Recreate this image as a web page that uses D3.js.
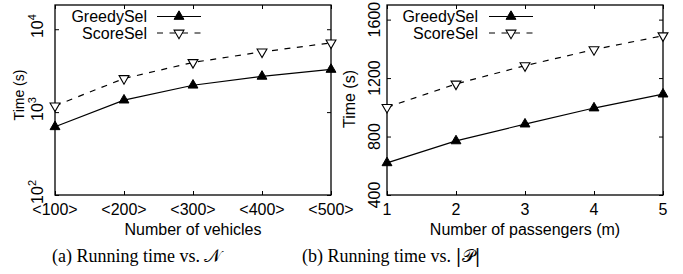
<!DOCTYPE html>
<html><head><meta charset="utf-8">
<script src="https://cdn.jsdelivr.net/npm/d3@7"></script>
<style>body{margin:0;background:#fff} svg{display:block}</style>
</head><body><svg id="c" width="683" height="274"></svg>
<script>
// ---- data ----
const vehicleCats = ["<100>", "<200>", "<300>", "<400>", "<500>"];
const greedyVeh = [665, 1395, 2110, 2700, 3270];
const scoreVeh = [1190, 2545, 3975, 5330, 6840];
const passengerCounts = [1, 2, 3, 4, 5];
const greedyPass = [620, 770, 885, 995, 1090];
const scorePass = [1000, 1160, 1285, 1395, 1490];
const vehYTicks = [100, 1000, 10000];
const passYTicks = [400, 800, 1200, 1600];
const seriesNames = ["GreedySel", "ScoreSel"];
const captions = ["(a) Running time vs. ", "(b) Running time vs. "];
const captionSymbols = ["\u{1D4A9}", "|\u{1D4AB}|"];

const svg = d3.select("#c");
const FONT = "'Liberation Sans', Arial, Helvetica, sans-serif";
const plotTop = 5, plotBottom = 195, TL = 4;

function triUp(g, x, y) {
  g.append("path").attr("d", d3.symbol(d3.symbolTriangle, 42)())
    .attr("transform", `translate(${x},${y})`).attr("fill", "#000").attr("stroke", "#000").attr("stroke-width", 1);
}
function triDown(g, x, y) {
  g.append("path").attr("d", d3.symbol(d3.symbolTriangle, 42)())
    .attr("transform", `translate(${x},${y}) rotate(180)`).attr("fill", "#fff").attr("stroke", "#000").attr("stroke-width", 1.1);
}

function panel(opts) {
  const g = svg.append("g");
  const {x, y, xs} = opts;
  const L = x.range()[0], R = x.range()[1];
  const line = d3.line().x(d => x(d[0])).y(d => y(d[1]));
  g.append("path").datum(xs.map((v, i) => [v, opts.score[i]])).attr("d", line)
    .attr("fill", "none").attr("stroke", "#000").attr("stroke-width", 1.2).attr("stroke-dasharray", "6,6.5");
  g.append("path").datum(xs.map((v, i) => [v, opts.greedy[i]])).attr("d", line)
    .attr("fill", "none").attr("stroke", "#000").attr("stroke-width", 1.2);
  const ax = g.append("g");
  ax.append("g").attr("transform", `translate(0,${plotBottom})`)
    .call(d3.axisBottom(x).tickValues(xs).tickSize(-TL).tickFormat(""));
  ax.append("g").attr("transform", `translate(0,${plotTop})`)
    .call(d3.axisTop(x).tickValues(xs).tickSize(-TL).tickFormat(""));
  ax.append("g").attr("transform", `translate(${L},0)`)
    .call(d3.axisLeft(y).tickValues(opts.yTicks).tickSize(-TL).tickFormat(""));
  ax.append("g").attr("transform", `translate(${R},0)`)
    .call(d3.axisRight(y).tickValues(opts.yTicks).tickSize(-TL).tickFormat(""));
  ax.selectAll(".domain").remove();
  ax.selectAll("line").attr("stroke", "#000").attr("stroke-width", 1);
  g.append("rect").attr("x", L).attr("y", plotTop).attr("width", R - L).attr("height", plotBottom - plotTop)
    .attr("fill", "none").attr("stroke", "#000").attr("stroke-width", 1.3);
  xs.forEach(v => {
    g.append("text").attr("x", x(v)).attr("y", 215).attr("text-anchor", "middle")
      .attr("font-family", FONT).attr("font-size", 16).text(opts.xLabel(v));
  });
  opts.yTicks.forEach(v => opts.yLabel(g, y(v), v));
  g.append("text").attr("x", (L + R) / 2).attr("y", 235).attr("text-anchor", "middle")
    .attr("font-family", FONT).attr("font-size", 16).text(opts.xTitle);
  g.append("text").attr("transform", `translate(${opts.yTitleX},${opts.yTitleY}) rotate(-90)`)
    .attr("text-anchor", "middle").attr("font-family", FONT).attr("font-size", opts.yTitleSize).text("Time (s)");
  xs.forEach((v, i) => triDown(g, x(v), y(opts.score[i])));
  xs.forEach((v, i) => triUp(g, x(v), y(opts.greedy[i])));
  const lg = opts.legend;
  [0, 1].forEach(k => {
    const ly = k === 0 ? 16.5 : 33;
    g.append("text").attr("x", lg.textEnd).attr("y", ly + 5.6).attr("text-anchor", "end")
      .attr("font-family", FONT).attr("font-size", 16).text(seriesNames[k]);
    const ln = g.append("line").attr("x1", lg.l1).attr("x2", lg.l2).attr("y1", ly).attr("y2", ly)
      .attr("stroke", "#000").attr("stroke-width", 1.2);
    if (k === 1) ln.attr("stroke-dasharray", "6,6.5");
    const mx = (lg.l1 + lg.l2) / 2;
    if (k === 0) triUp(g, mx, ly); else triDown(g, mx, ly);
  });
  const cap = g.append("text").attr("x", opts.capX).attr("y", 262)
    .attr("font-family", "'Liberation Serif', 'DejaVu Serif', serif").attr("font-size", 18)
    .text(opts.caption);
  cap.append("tspan").attr("font-family", "'DejaVu Serif', 'Noto Sans', 'DejaVu Sans', serif").text(opts.capSym);
}

const xA = d3.scalePoint().domain(vehicleCats).range([55, 331]);
const yA = d3.scaleLog().domain([100, 19600]).range([plotBottom, plotTop]);
panel({
  x: xA, y: yA, xs: vehicleCats, greedy: greedyVeh, score: scoreVeh, yTicks: vehYTicks,
  xLabel: v => v, xTitle: "Number of vehicles",
  yLabel: (g, py, v) => {
    const t = g.append("text").attr("transform", `translate(43,${py}) rotate(-90)`)
      .attr("font-family", FONT).attr("font-size", 16).attr("x", -8.9).attr("y", 0);
    t.append("tspan").text("10");
    t.append("tspan").attr("font-size", 11).attr("dy", -7).text(String(Math.round(Math.log10(v))));
  },
  yTitleX: 24, yTitleY: 95, yTitleSize: 14,
  legend: {textEnd: 147, l1: 157, l2: 201},
  caption: captions[0], capSym: captionSymbols[0], capX: 52
});

const xB = d3.scaleLinear().domain([1, 5]).range([387, 663]);
const yB = d3.scaleLinear().domain([400, 1700]).range([plotBottom, plotTop]);
panel({
  x: xB, y: yB, xs: passengerCounts, greedy: greedyPass, score: scorePass, yTicks: passYTicks,
  xLabel: v => String(v), xTitle: "Number of passengers (m)",
  yLabel: (g, py, v) => {
    g.append("text").attr("transform", `translate(380,${py}) rotate(-90)`)
      .attr("text-anchor", "middle").attr("font-family", FONT).attr("font-size", 16).text(String(v));
  },
  yTitleX: 355, yTitleY: 99, yTitleSize: 16,
  legend: {textEnd: 478, l1: 489, l2: 533},
  caption: captions[1], capSym: captionSymbols[1], capX: 302
});
</script></body></html>
